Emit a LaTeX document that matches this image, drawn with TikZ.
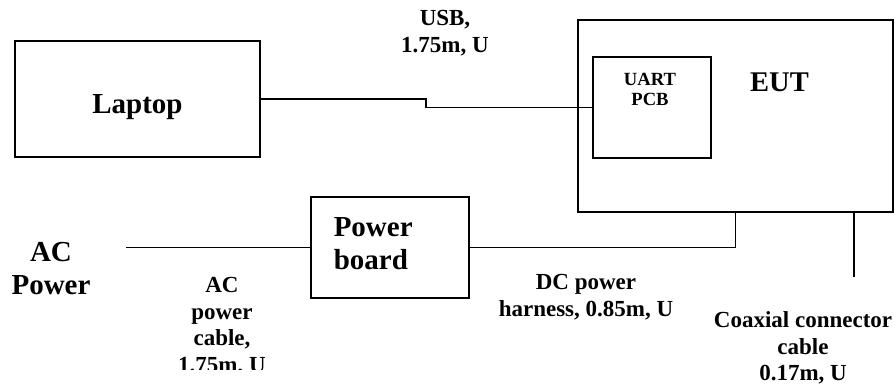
\documentclass[tikz,border=0pt]{standalone}
\usepackage{fontspec}
\setmainfont{Liberation Serif}
\begin{document}
\begin{tikzpicture}[x=1pt,y=-1pt,line width=1.5pt,
  box/.style={draw,line width=1.5pt,inner sep=0pt},
  big/.style={font=\fontsize{29}{33}\selectfont\bfseries,inner sep=0pt,align=center},
  mid/.style={font=\fontsize{28.5}{33}\selectfont\bfseries,inner sep=0pt,align=center},
  small/.style={font=\fontsize{23}{26.5}\selectfont\bfseries,inner sep=0pt,align=center},
  tiny/.style={font=\fontsize{18.6}{20}\selectfont\bfseries,inner sep=0pt,align=center}]
\useasboundingbox (0,0) rectangle (896,388);
% boxes
\node[box,minimum width=245pt,minimum height=116pt] (laptop) at (137.5,99) {};
\node[big,anchor=base] (laptoptxt) at (137.5,113.3) {Laptop};
\node[box,minimum width=315pt,minimum height=192pt] (eut) at (735.5,116) {};
\node[mid,anchor=base] (euttxt) at (779.5,91.7) {EUT};
\node[box,minimum width=118pt,minimum height=101pt] (uart) at (652,107.5) {};
\node[tiny,anchor=north] (uarttxt) at (650,72.7) {UART\\PCB};
\node[box,minimum width=158pt,minimum height=101pt] (pb) at (390,247.5) {};
\node[big,anchor=north west,align=left] (pbtxt) at (333,216.7) {Power\\board};
\node[big,anchor=north] (ac) at (51,241.7) {AC\\Power};
\coordinate (acend) at (126,247.5);
\coordinate (usbstep) at (426,99);
\coordinate (coaxtop) at (854,212);
\coordinate (coaxend) at (854,277);
% connectors
\draw (laptop.east) -- (usbstep) |- (uart.west);
\draw (acend) -- (pb.west);
\draw (pb.east) -| (eut.south);
\draw (coaxtop) -- (coaxend);
% labels
\node[small,anchor=north] (usblbl) at (445,10) {USB,\\1.75m, U};
\begin{scope}
  \clip (150,0) rectangle (300,369);
  \node[small,anchor=north] (aclbl) at (222,277) {AC\\power\\cable,\\1.75m, U};
\end{scope}
\node[small,anchor=north] (dclbl) at (586,274) {DC power\\harness, 0.85m, U};
\node[small,anchor=north] (coaxlbl) at (803,311) {Coaxial connector\\cable\\0.17m, U};
\end{tikzpicture}
\end{document}
